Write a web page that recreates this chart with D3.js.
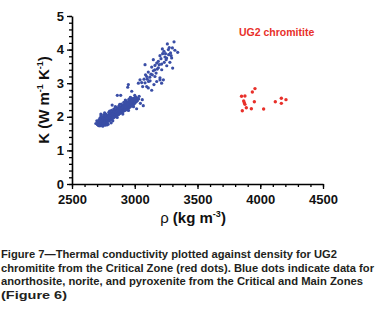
<!DOCTYPE html>
<html>
<head>
<meta charset="utf-8">
<script src="https://cdn.jsdelivr.net/npm/d3@7"></script>
<style>
  body { margin: 0; background: #fff; }
  text { font-family: "Liberation Sans", Arial, sans-serif; }
</style>
</head>
<body>
<svg id="drawing_region"></svg>
<script>
// density (kg m-3) vs thermal conductivity (W m-1 K-1)
const blueDots = [
  [2702,1.77],[2705,1.83],[2698,1.88],[2711,1.74],[2714,1.80],[2709,1.86],[2716,1.92],[2722,1.73],[2725,1.79],[2719,1.85],
  [2727,1.90],[2724,1.97],[2731,2.03],[2735,1.75],[2733,1.82],[2738,1.87],[2732,1.94],[2741,1.99],[2744,1.77],[2747,1.84],
  [2743,1.90],[2749,1.95],[2752,2.06],[2756,1.79],[2754,1.86],[2758,1.91],[2762,1.98],[2757,2.03],[2765,1.75],[2768,1.82],
  [2764,1.88],[2771,1.94],[2773,2.01],[2769,2.08],[2778,1.84],[2781,1.90],[2776,1.97],[2784,2.04],[2788,1.78],[2791,1.87],
  [2794,1.93],[2789,2.00],[2797,2.07],[2793,2.13],[2801,1.89],[2804,1.96],[2799,2.02],[2807,2.10],[2812,1.82],[2813,1.92],
  [2816,1.99],[2811,2.05],[2818,2.12],[2815,2.19],[2822,1.95],[2826,2.02],[2821,2.08],[2828,2.15],[2831,1.97],[2834,2.04],
  [2829,2.10],[2836,2.17],[2833,2.23],[2842,2.00],[2845,2.07],[2840,2.13],[2847,2.20],[2852,2.02],[2855,2.09],[2850,2.15],
  [2857,2.22],[2853,2.28],[2862,2.05],[2864,2.11],[2860,2.18],[2867,2.25],[2872,2.07],[2874,2.14],[2869,2.20],[2877,2.27],
  [2873,2.32],[2882,2.10],[2884,2.16],[2880,2.23],[2887,2.29],[2892,2.12],[2894,2.19],[2889,2.25],[2897,2.32],[2893,2.38],
  [2902,2.14],[2904,2.21],[2899,2.27],[2907,2.34],[2912,2.17],[2914,2.23],[2909,2.30],[2917,2.36],[2913,2.43],[2922,2.19],
  [2924,2.26],[2919,2.32],[2927,2.39],[2932,2.21],[2934,2.28],[2929,2.35],[2937,2.41],[2933,2.47],[2942,2.24],[2944,2.30],
  [2939,2.37],[2947,2.44],[2952,2.26],[2954,2.33],[2949,2.39],[2957,2.46],[2953,2.52],[2962,2.29],[2964,2.36],[2959,2.42],
  [2967,2.49],[2972,2.32],[2974,2.38],[2969,2.45],[2977,2.51],[2973,2.56],[2982,2.34],[2984,2.41],[2979,2.47],[2987,2.54],
  [2992,2.37],[2994,2.43],[2989,2.50],[2997,2.56],[3002,2.41],[3004,2.47],[2999,2.53],[3006,2.59],[3012,2.45],[3014,2.51],
  [3009,2.57],[3021,2.48],[3024,2.55],[3031,2.53],[3035,2.61],
  [2745,1.72],[2780,1.76],[2825,1.88],[2860,1.98],[2905,2.08],[2950,2.19],[2990,2.30],[2730,2.08],[2760,2.12],[2800,2.17],
  [2845,2.30],[2880,2.37],[2925,2.50],[2965,2.58],[3000,2.64],
  [2861,2.64],[2888,2.64],[2944,2.88],[2976,2.76],[3015,2.24],[3068,2.33],[3060,2.51],[3045,2.40],[2820,2.35],[2690,1.80],
  [3313,4.23],[3260,4.17],[3342,3.92],[3294,3.75],[3220,4.02],[3268,4.00],[3275,4.06],[3233,3.95],[3222,3.88],[3201,3.82],
  [3241,3.78],[3209,3.73],[3148,3.70],[3188,3.65],[3175,3.60],[3214,3.57],[3161,3.53],[3082,3.55],[3135,3.48],[3188,3.46],
  [3148,3.37],[3108,3.33],[3129,3.27],[3095,3.20],[3161,3.20],[3201,3.16],[3042,3.10],[3122,3.07],[3082,3.01],[3063,2.90],
  [3153,2.96],[3214,3.00],[2949,2.96],[3029,3.00],[3108,2.86],[3254,3.75],[3302,3.45],[3201,3.10],[3228,3.10],[3175,3.05],
  [3135,2.79],[3095,2.90],[3074,3.12],[3270,3.85],[3285,3.90],[3250,3.70],[3235,3.62],[3195,3.55],[3180,3.42],[3170,3.30],
  [3140,3.25],[3120,3.18],[3100,3.12],[3300,4.05],[3320,3.98],[3280,3.62],[3255,3.52],[3215,3.40],[3245,3.88],[3290,3.82],
  [3160,3.40],[3110,3.05],[3055,3.02],[3086,3.25]
];

const redRho = [3958, 3937, 3851, 3878, 3868, 3873, 3878, 3953, 3889, 3929, 3857, 4027, 4120, 4168, 4205, 4168];
const redK   = [2.84, 2.74, 2.61, 2.62, 2.47, 2.42, 2.37, 2.45, 2.27, 2.24, 2.18, 2.23, 2.45, 2.55, 2.51, 2.40];

const xTicks = [2500, 3000, 3500, 4000, 4500];
const yTicks = [0, 1, 2, 3, 4, 5];

const caption = [
  "Figure 7\u2014Thermal conductivity plotted against density for UG2",
  "chromitite from the Critical Zone (red dots). Blue dots indicate data for",
  "anorthosite, norite, and pyroxenite from the Critical and Main Zones",
  "(Figure 6)"
];
const captionWidths = [336, 373, 362, 66];

const W = 381, H = 317;
const svg = d3.select('#drawing_region').attr('width', W).attr('height', H);

const x = d3.scaleLinear().domain([2500, 4500]).range([72, 323]);
const y = d3.scaleLinear().domain([0, 5]).range([184, 16]);

// minor ticks first, then major axes on top
const xMinor = d3.range(2500, 4501, 100);
const yMinor = d3.range(0, 5.001, 0.2);

svg.append('g')
   .attr('transform', 'translate(0,184)')
   .call(d3.axisBottom(x).tickValues(xMinor).tickSize(3).tickFormat('').tickSizeOuter(0))
   .call(g => g.select('.domain').remove());

svg.append('g')
   .attr('transform', 'translate(72,0)')
   .call(d3.axisLeft(y).tickValues(yMinor).tickSize(3).tickFormat('').tickSizeOuter(0))
   .call(g => g.select('.domain').remove());

const xAxis = svg.append('g')
   .attr('transform', 'translate(0,184)')
   .call(d3.axisBottom(x).tickValues(xTicks).tickSize(5).tickSizeOuter(0).tickPadding(6).tickFormat(d3.format('d')));

const yAxis = svg.append('g')
   .attr('transform', 'translate(72,0)')
   .call(d3.axisLeft(y).tickValues(yTicks).tickSize(5).tickSizeOuter(0).tickPadding(3).tickFormat(d3.format('d')));

svg.selectAll('.tick line').attr('stroke', '#000').attr('stroke-width', 1.3);
svg.selectAll('.domain').attr('stroke', '#000').attr('stroke-width', 1.6);
xAxis.selectAll('text').attr('font-size', 13).attr('font-weight', 'bold').attr('fill', '#111')
     .attr('font-family', '"Liberation Sans", Arial, sans-serif');
yAxis.selectAll('text').attr('font-size', 13).attr('font-weight', 'bold').attr('fill', '#111')
     .attr('font-family', '"Liberation Sans", Arial, sans-serif');

// points
svg.append('g').selectAll('circle')
   .data(blueDots)
   .join('circle')
   .attr('cx', d => x(d[0]))
   .attr('cy', d => y(d[1]))
   .attr('r', 1.6)
   .attr('fill', '#3a4ea6');

svg.append('g').selectAll('circle')
   .data(redRho.map((r, i) => [r, redK[i]]))
   .join('circle')
   .attr('cx', d => x(d[0]))
   .attr('cy', d => y(d[1]))
   .attr('r', 1.7)
   .attr('fill', '#e8302a');

svg.append('text')
   .attr('x', 239).attr('y', 36)
   .attr('font-size', 10.5).attr('font-weight', 'bold')
   .attr('fill', '#e8302a')
   .text('UG2 chromitite');

// axis titles
const xt = svg.append('text')
   .attr('x', 193).attr('y', 223)
   .attr('text-anchor', 'middle')
   .attr('font-size', 15).attr('font-weight', 'bold').attr('fill', '#111');
xt.append('tspan').attr('font-weight', 'normal').text('\u03c1');
xt.append('tspan').text(' (kg m');
xt.append('tspan').attr('font-size', 9).attr('dy', -6).text('-3');
xt.append('tspan').attr('dy', 6).text(')');

const yt = svg.append('text')
   .attr('transform', 'translate(49,100) rotate(-90)')
   .attr('text-anchor', 'middle')
   .attr('font-size', 15).attr('font-weight', 'bold').attr('fill', '#111');
yt.append('tspan').text('K (W m');
yt.append('tspan').attr('font-size', 9).attr('dy', -6).text('-1');
yt.append('tspan').attr('dy', 6).text(' K');
yt.append('tspan').attr('font-size', 9).attr('dy', -6).text('-1');
yt.append('tspan').attr('dy', 6).text(')');

// caption
svg.append('g').selectAll('text')
   .data(caption)
   .join('text')
   .attr('x', 1)
   .attr('y', (d, i) => 258 + i * 13.7)
   .attr('font-size', 11)
   .attr('font-weight', 'bold')
   .attr('fill', '#231f20')
   .attr('textLength', (d, i) => captionWidths[i])
   .attr('lengthAdjust', 'spacingAndGlyphs')
   .text(d => d);
</script>
</body>
</html>
